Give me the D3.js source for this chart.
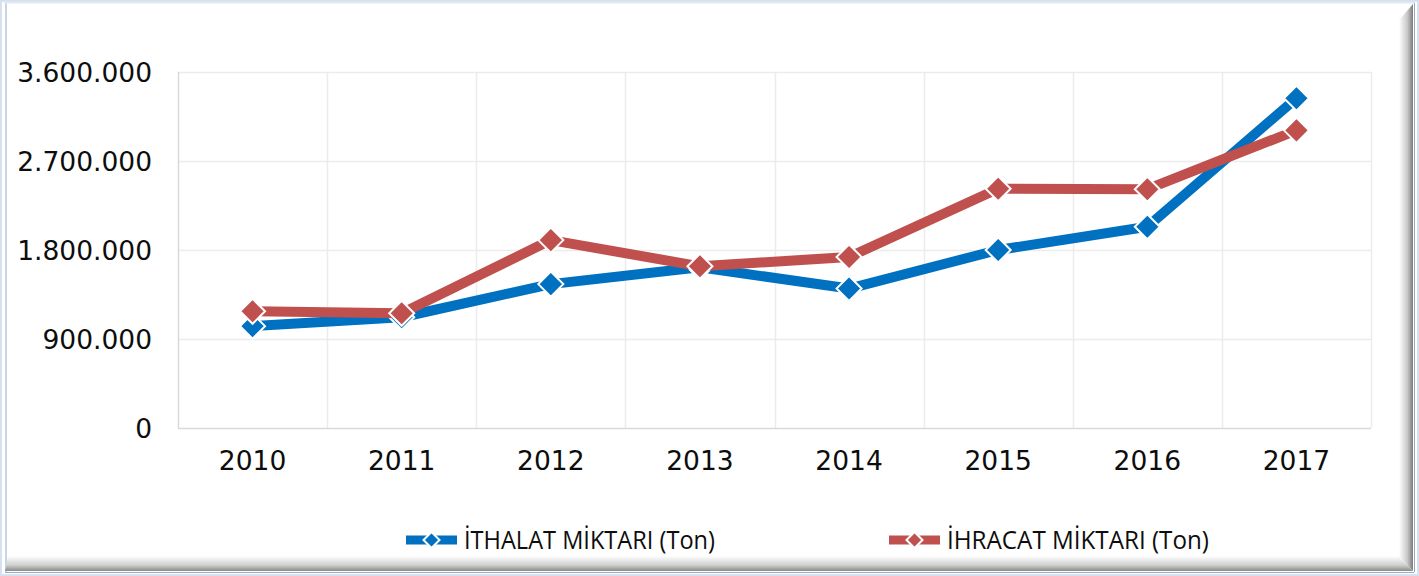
<!DOCTYPE html>
<html><head><meta charset="utf-8">
<script src="https://cdn.jsdelivr.net/npm/d3@7"></script>
<style>html,body{margin:0;padding:0;background:#fff;}svg{display:block;}</style>
</head><body>
<svg id="c" width="1419" height="576"></svg>
<script>
const years = ["2010","2011","2012","2013","2014","2015","2016","2017"];
const ithalat = [1030000, 1120000, 1455000, 1625000, 1410000, 1800000, 2035000, 3335000];
const ihracat = [1180000, 1160000, 1900000, 1635000, 1730000, 2420000, 2415000, 3010000];
const yTicks = [0, 900000, 1800000, 2700000, 3600000];
const seriesNames = ["İTHALAT MİKTARI (Ton)", "İHRACAT MİKTARI  (Ton)"];
const seriesColors = ["#0070C0", "#C0504D"];

(function(){
const W = 1419, H = 576;
const svg = d3.select("#c");
const defs = svg.append("defs");

const gR = defs.append("linearGradient").attr("id","gr").attr("x1","0").attr("x2","1").attr("y1","0").attr("y2","0");
gR.append("stop").attr("offset","0").attr("stop-color","#ffffff");
gR.append("stop").attr("offset","0.6").attr("stop-color","#c8c8c8");
gR.append("stop").attr("offset","1").attr("stop-color","#7a7a7a");
const gB = defs.append("linearGradient").attr("id","gb").attr("x1","0").attr("x2","0").attr("y1","0").attr("y2","1");
gB.append("stop").attr("offset","0").attr("stop-color","#ffffff");
gB.append("stop").attr("offset","0.6").attr("stop-color","#d0d0d0");
gB.append("stop").attr("offset","1").attr("stop-color","#8a8a8a");

svg.append("rect").attr("x",0.5).attr("y",0.5).attr("width",W-1).attr("height",H-1)
  .attr("fill","#fff").attr("stroke","#d6e0ee").attr("stroke-width",3);
svg.append("line").attr("x1",6).attr("x2",6).attr("y1",3).attr("y2",H-4)
  .attr("stroke","#c9d4e4").attr("stroke-width",2);
svg.append("line").attr("x1",4).attr("x2",W-4).attr("y1",2.5).attr("y2",2.5)
  .attr("stroke","#e2e9f3").attr("stroke-width",2);
svg.append("path").attr("d",`M1399,20 L1413,4 L1413,571 L1399,556 Z`).attr("fill","url(#gr)");
svg.append("path").attr("d",`M8,556 L1399,556 L1413,571 L5,571 Z`).attr("fill","url(#gb)");
svg.append("line").attr("x1",1414.5).attr("x2",1414.5).attr("y1",3).attr("y2",572).attr("stroke","#9aa8bc").attr("stroke-width",1);
svg.append("line").attr("x1",5).attr("x2",1414).attr("y1",572.5).attr("y2",572.5).attr("stroke","#9aa8bc").attr("stroke-width",1);

const pL = 178, pR = 1371, pT = 72, pB = 428;
const x = d3.scaleBand().domain(years).range([pL, pR]);
const y = d3.scaleLinear().domain([0, 3600000]).range([pB, pT]);
const fmt = v => d3.format(",")(v).replace(/,/g, ".");

const grid = svg.append("g");
grid.selectAll("line.h").data(yTicks).join("line")
  .attr("x1", pL).attr("x2", pR)
  .attr("y1", d => Math.round(y(d)) + 0.5).attr("y2", d => Math.round(y(d)) + 0.5)
  .attr("stroke", d => d === 0 ? "#d9d9d9" : "#ececec").attr("stroke-width", 1.5);
const bounds = years.map(d => x(d)).concat([pR]);
grid.selectAll("line.v").data(bounds).join("line")
  .attr("x1", d => Math.round(d) + 0.5).attr("x2", d => Math.round(d) + 0.5)
  .attr("y1", pT).attr("y2", pB)
  .attr("stroke", (d,i) => i === 0 ? "#d9d9d9" : "#ececec").attr("stroke-width", 1.5);

const yAxis = d3.axisLeft(y).tickValues(yTicks).tickFormat(fmt).tickSize(0).tickPadding(0);
const ya = svg.append("g").attr("transform", `translate(152,0)`).call(yAxis);
ya.select(".domain").remove();
ya.selectAll("text").attr("font-family","DejaVu Sans, Verdana, sans-serif").attr("font-size","26.5px").attr("fill","#0d0d0d").attr("dy","0.36em");

const xAxis = d3.axisBottom(x).tickSize(0).tickPadding(0);
const xa = svg.append("g").attr("transform", `translate(0,${pB + 23})`).call(xAxis);
xa.select(".domain").remove();
xa.selectAll("text").attr("font-family","DejaVu Sans, Verdana, sans-serif").attr("font-size","26.5px").attr("fill","#0d0d0d").attr("dy","0.72em");

const series = [ithalat, ihracat];
const line = d3.line().x((d,i) => x(years[i]) + x.bandwidth()/2).y(d => y(d));
const diamond = s => `M0,${-s} L${s},0 L0,${s} L${-s},0 Z`;

series.forEach((vals, si) => {
  const g = svg.append("g");
  g.append("path").datum(vals).attr("d", line).attr("fill","none")
    .attr("stroke", seriesColors[si]).attr("stroke-width", 10).attr("stroke-linejoin","round");
  g.selectAll("path.m").data(vals).join("path")
    .attr("d", diamond(12.5))
    .attr("transform", (d,i) => `translate(${x(years[i]) + x.bandwidth()/2},${y(d)})`)
    .attr("fill", seriesColors[si]).attr("stroke","#fff").attr("stroke-width",2);
});

const legendX = [406, 889];
const legendW = [251, 262];
seriesNames.forEach((n, i) => {
  const g = svg.append("g").attr("transform", `translate(${legendX[i]},540)`);
  g.append("line").attr("x1",0).attr("x2",51).attr("y1",0).attr("y2",0)
    .attr("stroke", seriesColors[i]).attr("stroke-width",9);
  g.append("path").attr("d", diamond(8)).attr("transform","translate(25.5,0)")
    .attr("fill", seriesColors[i]).attr("stroke","#fff").attr("stroke-width",2);
  g.append("text").attr("x", 58).attr("y", 0).attr("dy","0.36em")
    .attr("font-family","Liberation Sans Narrow, Open Sans, sans-serif").attr("font-size","26px")
    .attr("fill","#0d0d0d").attr("textLength", legendW[i]).attr("lengthAdjust","spacingAndGlyphs")
    .text(n);
});
})();
</script>
</body></html>
